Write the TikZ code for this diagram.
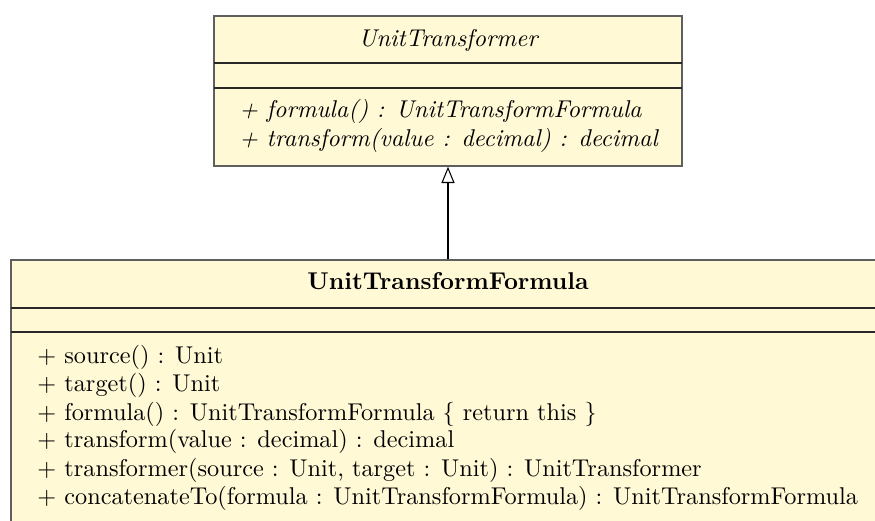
\documentclass[tikz,border=0pt]{standalone}
\usetikzlibrary{arrows.meta}
\definecolor{classfill}{RGB}{255,249,214}
\definecolor{classline}{RGB}{95,95,95}
\definecolor{sepline}{RGB}{40,40,40}
\begin{document}
\begin{tikzpicture}[x=0.428571pt,y=-0.428571pt,
  classbox/.style={draw=classline, fill=classfill, line width=0.6pt, inner sep=0pt},
  sepl/.style={draw=sepline, line width=0.5pt},
  txt/.style={inner sep=0pt, font=\fontsize{10.4}{12}\selectfont},
  gen/.style={draw=black, line width=0.45pt, -{Triangle[open,length=7pt,width=5.6pt]}}]
\useasboundingbox (0,0) rectangle (875,521);
\clip (0,0) rectangle (875,521);
% top class
\node[classbox, minimum width=200.57pt, minimum height=64.29pt] (top) at (448,91) {};
\draw[sepl] (214,63) -- (682,63);
\draw[sepl] (214,88) -- (682,88);
\node[txt, anchor=base] (toptitle) at (448,47) {\itshape UnitTransformer};
\node[txt, anchor=base west] (tm1) at (239,118) {\itshape + formula() : UnitTransformFormula};
\node[txt, anchor=base west] (tm2) at (239,147) {\itshape + transform(value : decimal) : decimal};
% bottom class
\node[classbox, minimum width=374.57pt, minimum height=120pt] (bot) at (448,400) {};
\draw[sepl] (11,308) -- (885,308);
\draw[sepl] (11,332) -- (885,332);
\node[txt, anchor=base] (bottitle) at (448,290) {\bfseries UnitTransformFormula};
\node[txt, anchor=base west] (bm1) at (37,364) {+ source() : Unit};
\node[txt, anchor=base west] (bm2) at (37,392) {+ target() : Unit};
\node[txt, anchor=base west] (bm3) at (37,420) {+ formula() : UnitTransformFormula \{ return this \}};
\node[txt, anchor=base west] (bm4) at (37,448) {+ transform(value : decimal) : decimal};
\node[txt, anchor=base west] (bm5) at (37,476) {+ transformer(source : Unit, target : Unit) : UnitTransformer};
\node[txt, anchor=base west] (bm6) at (37,504) {+ concatenateTo(formula : UnitTransformFormula) : UnitTransformFormula};
% generalization
\draw[gen] (bot.north) -- (top.south);
\end{tikzpicture}
\end{document}
